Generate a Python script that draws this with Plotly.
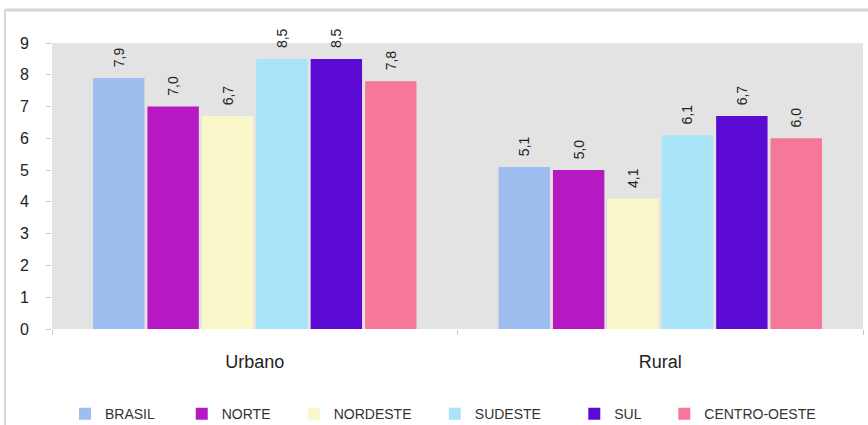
import plotly.graph_objects as go

categories = ["Urbano", "Rural"]
regions = ["BRASIL", "NORTE", "NORDESTE", "SUDESTE", "SUL", "CENTRO-OESTE"]
brasil = [7.9, 5.1]
norte = [7.0, 5.0]
nordeste = [6.7, 4.1]
sudeste = [8.5, 6.1]
sul = [8.5, 6.7]
centro_oeste = [7.8, 6.0]
series = [brasil, norte, nordeste, sudeste, sul, centro_oeste]
colors = ["#9FBEF0", "#B618C2", "#FAF8CA", "#A9E4F8", "#5A0AD2", "#F5779A"]
y_ticks = list(range(0, 10))

# legend item x positions (paper fraction) - one legend per region
legend_x = [0.016, 0.160, 0.298, 0.472, 0.644, 0.755]
legend_names = ["legend", "legend2", "legend3", "legend4", "legend5", "legend6"]

fig = go.Figure()
for name, vals, c, lg in zip(regions, series, colors, legend_names):
    fig.add_trace(go.Bar(
        x=categories, y=vals, name=name, legend=lg,
        marker=dict(color=c, line=dict(width=0)),
        text=["\u00a0\u00a0" + f"{v:.1f}".replace(".", ",") for v in vals],
        textposition="outside", textangle=-90,
        textfont=dict(family="Liberation Sans, Arial", size=14, color="#222222"),
        cliponaxis=False,
    ))

legend_common = dict(orientation="h", xanchor="left", y=-0.298, yanchor="middle",
                     font=dict(family="Liberation Sans, Arial", size=14, color="#333333"),
                     itemwidth=30, bgcolor="rgba(0,0,0,0)")
layout_legends = {}
for lg, lx in zip(legend_names, legend_x):
    layout_legends[lg] = dict(legend_common, x=lx)

fig.update_layout(
    width=868, height=425,
    margin=dict(l=52, r=5, t=43, b=96, autoexpand=False),
    paper_bgcolor="white", plot_bgcolor="#E3E3E3",
    barmode="group", bargap=0.195, bargroupgap=0.055,
    font=dict(family="Liberation Sans, Arial", color="#222222"),
    showlegend=True,
    xaxis=dict(showgrid=False, ticks="outside", tickson="boundaries", ticklen=5,
               tickcolor="#C8C8C8", tickfont=dict(size=18, color="#222222"),
               ticklabelstandoff=20, showline=False, zeroline=False),
    yaxis=dict(range=[0, 9], tickvals=y_ticks, showgrid=False, ticks="outside",
               ticklen=5, tickcolor="#C8C8C8", tickfont=dict(size=16, color="#222222"),
               ticklabelstandoff=14, showline=False, zeroline=False),
    shapes=[
        dict(type="line", xref="paper", yref="paper", x0=-0.058, x1=1.01, y0=1.115, y1=1.115,
             line=dict(color="#D6D6D6", width=3)),
        dict(type="line", xref="paper", yref="paper", x0=-0.058, x1=-0.058, y0=-0.35, y1=1.115,
             line=dict(color="#D6D6D6", width=2)),
    ],
    **layout_legends,
)

fig.write_html("out.html", config={"displayModeBar": False},
               post_script="document.body.style.margin='0';")
